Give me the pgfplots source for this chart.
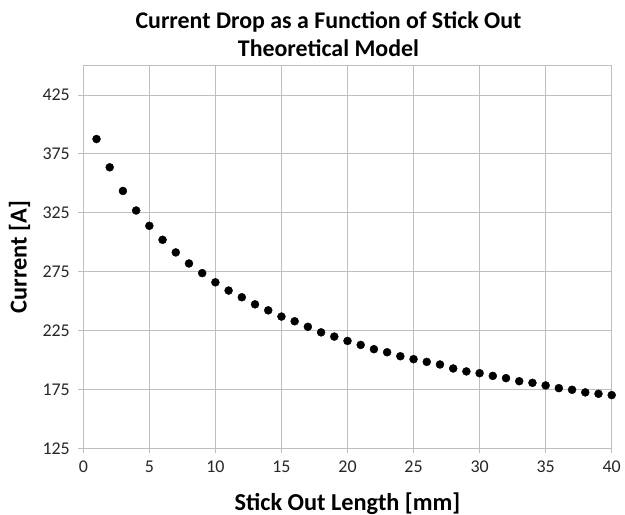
\documentclass[border=0pt]{standalone}
\usepackage{pgfplots}
\pgfplotsset{compat=1.18}
\usepackage{fontspec}
\setmainfont{Carlito}
\definecolor{gridgray}{RGB}{190,190,190}
\begin{document}
\begin{tikzpicture}
\path[use as bounding box] (-83.3bp,-66.7bp) rectangle (541.7bp,448.3bp);
\begin{axis}[
  scale only axis,
  width=528.4bp, height=382.6bp,
  at={(0,0)}, anchor=south west,
  xmin=0, xmax=40, ymin=125, ymax=450,
  xtick={0,5,...,40}, ytick={125,175,...,425},
  grid=major,
  grid style={gridgray, line width=1bp},
  axis line style={gridgray, line width=1bp},
  tick style={gridgray, line width=1bp},
  tick align=outside, major tick length=5bp,
  xtick pos=bottom, ytick pos=left,
  /pgf/number format/assume math mode=true,
  tick label style={font=\fontsize{18}{18}\selectfont, text=black!85},
  xticklabel style={yshift=-4bp},
  yticklabel style={xshift=-5bp},
  xlabel={Stick Out Length [mm]},
  ylabel={Current [A]},
  every axis x label/.style={at={(axis description cs:0.5,-0.1613)}, anchor=base, font=\bfseries\fontsize{24.4}{24.4}\selectfont},
  every axis y label/.style={at={(axis description cs:-0.1071,0.5)}, anchor=base, rotate=90, font=\bfseries\fontsize{24.4}{24.4}\selectfont},
  clip=false,
]
\addplot[only marks, mark=*, mark size=4bp, black] coordinates {
(1,387.7) (2,363.7) (3,343.6) (4,327.0) (5,314.0) (6,302.1) (7,291.4) (8,282.0)
(9,273.8) (10,266.0) (11,259.0) (12,253.3) (13,247.3) (14,242.2) (15,236.9) (16,232.9)
(17,228.2) (18,223.5) (19,219.9) (20,216.2) (21,212.8) (22,209.2) (23,206.6) (24,203.2)
(25,200.7) (26,198.4) (27,196.2) (28,192.8) (29,190.3) (30,188.8) (31,186.5) (32,184.6)
(33,182.0) (34,180.6) (35,178.4) (36,176.1) (37,174.7) (38,172.5) (39,171.3) (40,170.2)
};
\node[anchor=base, font=\bfseries\fontsize{24}{24}\selectfont, yshift=37.4bp] at (rel axis cs:0.464,1) {Current Drop as a Function of Stick Out};
\node[anchor=base, font=\bfseries\fontsize{24}{24}\selectfont, yshift=9bp] at (rel axis cs:0.464,1) {Theoretical Model};
\end{axis}
\end{tikzpicture}
\end{document}
